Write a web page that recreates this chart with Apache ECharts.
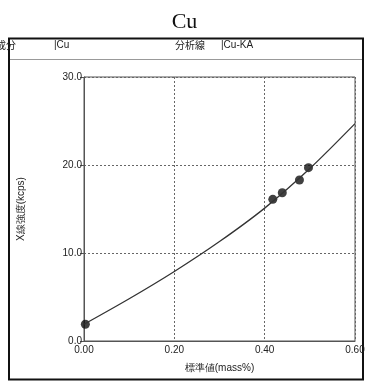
<!DOCTYPE html>
<html><head><meta charset="utf-8">
<script src="https://cdn.jsdelivr.net/npm/echarts@6/dist/echarts.min.js"></script>
<style>html,body{margin:0;padding:0;background:#fff}#c{width:369px;height:383px}</style>
</head><body><div id="c"></div>
<script>
const title = "Cu";
const elementLabel = "成分";
const elementValue = "|Cu";
const lineLabel = "分析線";
const lineValue = "|Cu-KA";
const xName = "標準値(mass%)";
const yName = "X線強度(kcps)";
const xTicks = [0, 0.2, 0.4, 0.6];
const yTicks = [0, 10, 20, 30];
// standard points: [mass%, kcps]
const stdX = [0.003, 0.418, 0.439, 0.477, 0.497];
const stdY = [1.9, 16.1, 16.85, 18.3, 19.7];
// calibration curve
const curveX = [0, 0.1, 0.2, 0.3, 0.4, 0.5, 0.6];
const curveY = [1.9, 4.8, 7.9, 11.3, 15.1, 19.6, 24.7];

const chart = echarts.init(document.getElementById('c'));
const font = '"Liberation Sans", Arial, sans-serif';
chart.setOption({
  animation: false,
  backgroundColor: '#fff',
  title: {text: title, left: 'center', top: 6, textStyle: {fontFamily: '"Liberation Serif", "Times New Roman", serif', fontWeight: 'normal', fontSize: 22, color: '#111'}},
  grid: {left: 84, right: 14, top: 77, bottom: 42, show: true, borderColor: '#555', borderWidth: 1},
  xAxis: {type: 'value', min: 0, max: 0.6, interval: 0.2,
    axisLine: {show: true, lineStyle: {color: '#555'}}, axisTick: {show: false},
    axisLabel: {color: '#222', fontSize: 10, fontFamily: font, margin: 4, formatter: v => v.toFixed(2)},
    splitLine: {show: true, lineStyle: {type: [2, 2], color: '#666'}},
    name: xName, nameLocation: 'middle', nameGap: 22, nameTextStyle: {color: '#222', fontSize: 10, fontFamily: font}},
  yAxis: {type: 'value', min: 0, max: 30, interval: 10,
    axisLine: {show: true, lineStyle: {color: '#555'}}, axisTick: {show: true, inside: false, length: 4, lineStyle: {color: '#555'}},
    axisLabel: {color: '#222', fontSize: 10, fontFamily: font, margin: 2, formatter: v => v.toFixed(1)},
    splitLine: {show: true, lineStyle: {type: [2, 2], color: '#666'}},
    name: yName, nameLocation: 'middle', nameGap: 58, nameRotate: 90, nameTextStyle: {color: '#222', fontSize: 10, fontFamily: font}},
  series: [
    {type: 'line', data: curveX.map((x, i) => [x, curveY[i]]), smooth: 0.3, showSymbol: false, lineStyle: {color: '#333', width: 1.3}, silent: true},
    {type: 'scatter', data: stdX.map((x, i) => [x, stdY[i]]), symbolSize: 9, itemStyle: {color: '#111'}}
  ],
  graphic: [
    {type: 'rect', shape: {x: 9, y: 38.5, width: 354, height: 341}, style: {fill: null, stroke: '#111', lineWidth: 2}, silent: true},
    {type: 'line', shape: {x1: 10, y1: 59.5, x2: 362, y2: 59.5}, style: {stroke: '#999', lineWidth: 1}},
    {type: 'text', x: -4, y: 40, style: {text: elementLabel, fontSize: 10, fontFamily: '"Noto Sans CJK JP", sans-serif', fill: '#222'}},
    {type: 'text', x: 54, y: 40, style: {text: elementValue, fontSize: 10, fontFamily: font, fill: '#222'}},
    {type: 'text', x: 175, y: 40, style: {text: lineLabel, fontSize: 10, fontFamily: '"Noto Sans CJK JP", sans-serif', fill: '#222'}},
    {type: 'text', x: 221, y: 40, style: {text: lineValue, fontSize: 10, fontFamily: font, fill: '#222'}}
  ]
});
</script></body></html>
